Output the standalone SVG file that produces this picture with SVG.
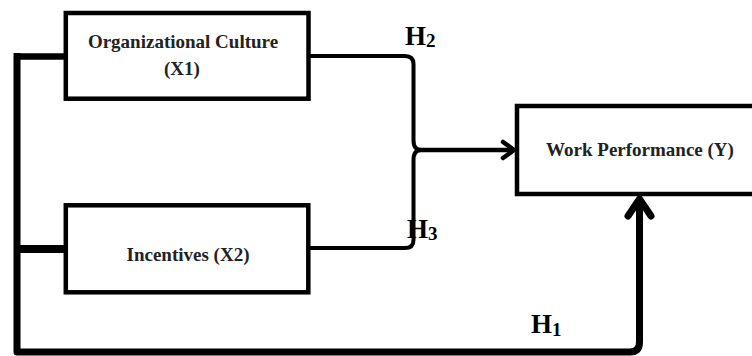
<svg xmlns="http://www.w3.org/2000/svg" width="752" height="356" viewBox="0 0 752 356">
<style>
.box{fill:#fff;stroke:#000;stroke-width:4.5}
.lbl{font-family:"Liberation Serif","Times New Roman",serif;font-weight:bold;font-size:19px;fill:#222;text-anchor:middle}
.h{font-family:"Liberation Serif","Times New Roman",serif;font-weight:bold;font-size:27px;fill:#000}
.sub{font-size:19px}
.ln{fill:none;stroke:#000;stroke-linecap:butt;stroke-linejoin:round}
.arw{fill:none;stroke:#000;stroke-linecap:round;stroke-linejoin:round}
</style>
<rect width="752" height="356" fill="#fff"/>
<g id="connectors">
  <path class="ln" d="M17,53 V352 H630 Q639.5,352 639.5,342 V200" stroke-width="7"/>
  <path class="ln" d="M14,56.5 H66" stroke-width="6.5"/>
  <path class="ln" d="M14,249 H66" stroke-width="8"/>
  <path class="ln" d="M308,56 H405 Q413.5,56 413.5,64 V140 Q413.5,150 421,150" stroke-width="4"/>
  <path class="ln" d="M308,248 H405 Q413.5,248 413.5,240 V160 Q413.5,150 421,150" stroke-width="4"/>
  <path class="ln" d="M417,150 H513" stroke-width="4.5"/>
  <path class="arw" d="M503,142 L514,150 L503,158" stroke-width="4.5"/>
  <path class="arw" d="M628,216 L639.5,199 L651,216" stroke-width="7"/>
</g>
<g id="node-x1">
  <rect class="box" x="65.8" y="13" width="242.7" height="85.7"/>
  <text class="lbl" x="183" y="48">Organizational Culture</text>
  <text class="lbl" x="182" y="75">(X1)</text>
</g>
<g id="node-x2">
  <rect class="box" x="65.8" y="205.3" width="242.5" height="87"/>
  <text class="lbl" x="188" y="261">Incentives (X2)</text>
</g>
<g id="node-y">
  <rect class="box" x="517" y="106" width="250" height="88"/>
  <text class="lbl" x="640" y="156">Work Performance (Y)</text>
</g>
<g id="labels">
  <text class="h" x="405" y="45">H<tspan class="sub" dy="2">2</tspan></text>
  <text class="h" x="407" y="238">H<tspan class="sub" dy="2">3</tspan></text>
  <text class="h" x="531" y="333">H<tspan class="sub" dy="3">1</tspan></text>
</g>
</svg>
